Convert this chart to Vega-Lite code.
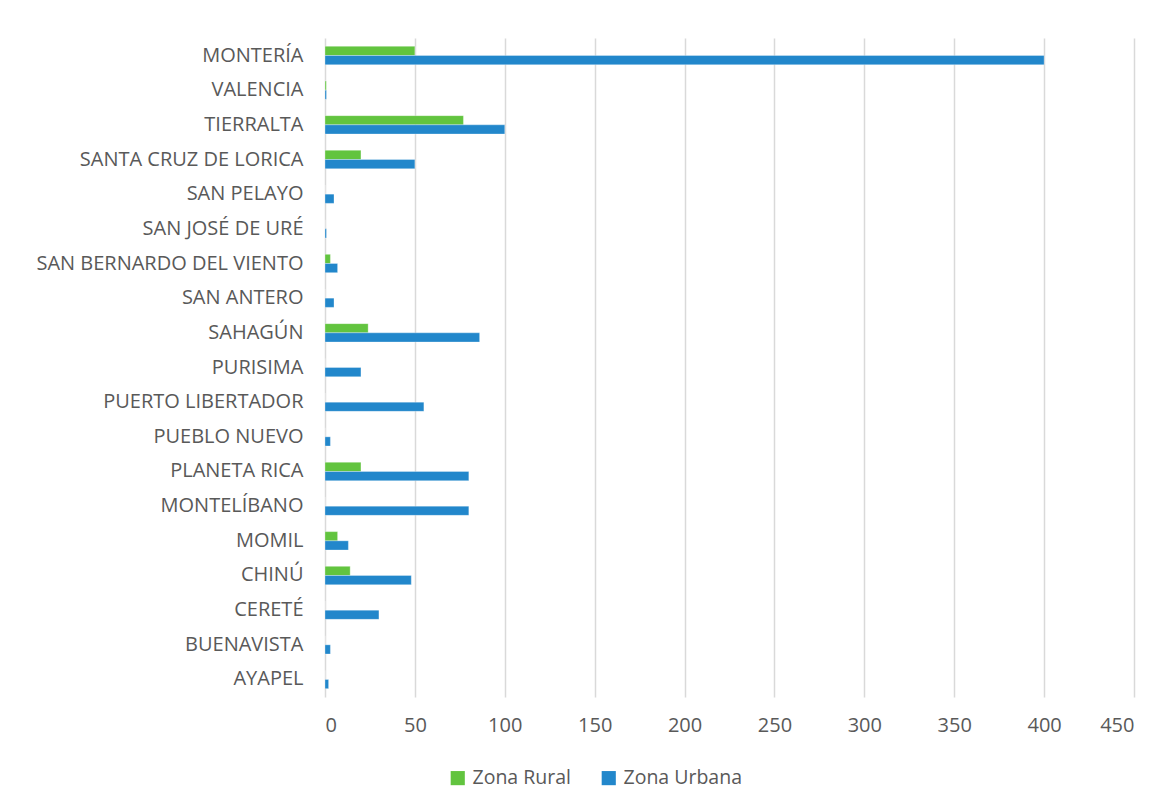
{
  "$schema": "https://vega.github.io/schema/vega-lite/v6.json",
  "autosize": {"type": "none"},
  "width": 809,
  "height": 659,
  "padding": {"left": 325, "top": 38, "right": 37, "bottom": 115},
  "background": "white",
  "data": {"values": [
    {"municipio": "MONTERÍA", "zona": "Zona Rural", "valor": 50},
    {"municipio": "MONTERÍA", "zona": "Zona Urbana", "valor": 400},
    {"municipio": "VALENCIA", "zona": "Zona Rural", "valor": 0.7},
    {"municipio": "VALENCIA", "zona": "Zona Urbana", "valor": 0.8},
    {"municipio": "TIERRALTA", "zona": "Zona Rural", "valor": 77},
    {"municipio": "TIERRALTA", "zona": "Zona Urbana", "valor": 100},
    {"municipio": "SANTA CRUZ DE LORICA", "zona": "Zona Rural", "valor": 20},
    {"municipio": "SANTA CRUZ DE LORICA", "zona": "Zona Urbana", "valor": 50},
    {"municipio": "SAN PELAYO", "zona": "Zona Rural", "valor": 0},
    {"municipio": "SAN PELAYO", "zona": "Zona Urbana", "valor": 5},
    {"municipio": "SAN JOSÉ DE URÉ", "zona": "Zona Rural", "valor": 0},
    {"municipio": "SAN JOSÉ DE URÉ", "zona": "Zona Urbana", "valor": 0.8},
    {"municipio": "SAN BERNARDO DEL VIENTO", "zona": "Zona Rural", "valor": 3},
    {"municipio": "SAN BERNARDO DEL VIENTO", "zona": "Zona Urbana", "valor": 7},
    {"municipio": "SAN ANTERO", "zona": "Zona Rural", "valor": 0},
    {"municipio": "SAN ANTERO", "zona": "Zona Urbana", "valor": 5},
    {"municipio": "SAHAGÚN", "zona": "Zona Rural", "valor": 24},
    {"municipio": "SAHAGÚN", "zona": "Zona Urbana", "valor": 86},
    {"municipio": "PURISIMA", "zona": "Zona Rural", "valor": 0},
    {"municipio": "PURISIMA", "zona": "Zona Urbana", "valor": 20},
    {"municipio": "PUERTO LIBERTADOR", "zona": "Zona Rural", "valor": 0},
    {"municipio": "PUERTO LIBERTADOR", "zona": "Zona Urbana", "valor": 55},
    {"municipio": "PUEBLO NUEVO", "zona": "Zona Rural", "valor": 0},
    {"municipio": "PUEBLO NUEVO", "zona": "Zona Urbana", "valor": 3},
    {"municipio": "PLANETA RICA", "zona": "Zona Rural", "valor": 20},
    {"municipio": "PLANETA RICA", "zona": "Zona Urbana", "valor": 80},
    {"municipio": "MONTELÍBANO", "zona": "Zona Rural", "valor": 0},
    {"municipio": "MONTELÍBANO", "zona": "Zona Urbana", "valor": 80},
    {"municipio": "MOMIL", "zona": "Zona Rural", "valor": 7},
    {"municipio": "MOMIL", "zona": "Zona Urbana", "valor": 13},
    {"municipio": "CHINÚ", "zona": "Zona Rural", "valor": 14},
    {"municipio": "CHINÚ", "zona": "Zona Urbana", "valor": 48},
    {"municipio": "CERETÉ", "zona": "Zona Rural", "valor": 0},
    {"municipio": "CERETÉ", "zona": "Zona Urbana", "valor": 30},
    {"municipio": "BUENAVISTA", "zona": "Zona Rural", "valor": 0},
    {"municipio": "BUENAVISTA", "zona": "Zona Urbana", "valor": 3},
    {"municipio": "AYAPEL", "zona": "Zona Rural", "valor": 0},
    {"municipio": "AYAPEL", "zona": "Zona Urbana", "valor": 2}
  ]},
  "mark": {"type": "bar", "stroke": "white", "strokeWidth": 0.5, "strokeOpacity": 0.6},
  "encoding": {
    "y": {
      "field": "municipio", "type": "nominal", "sort": null,
      "scale": {"paddingInner": 0.47, "paddingOuter": 0.24},
      "axis": {"title": null, "domain": false, "ticks": false, "labelPadding": 22, "labelLimit": 400,
               "labelFont": "Open Sans", "labelFontSize": 20, "labelColor": "#595959"}
    },
    "yOffset": {"field": "zona", "type": "nominal", "sort": ["Zona Rural", "Zona Urbana"]},
    "x": {
      "field": "valor", "type": "quantitative",
      "scale": {"domain": [0, 450], "nice": false},
      "axis": {"title": null, "values": [0, 50, 100, 150, 200, 250, 300, 350, 400, 450],
               "domain": false, "ticks": false, "labelPadding": 18,
               "labelFont": "Open Sans", "labelFontSize": 20, "labelColor": "#595959",
               "gridColor": "#D9D9D9", "gridWidth": 1.5}
    },
    "color": {
      "field": "zona", "type": "nominal",
      "scale": {"domain": ["Zona Rural", "Zona Urbana"], "range": ["#62C43F", "#2287CB"]},
      "legend": {"title": null, "orient": "none", "direction": "horizontal",
                 "legendX": 123, "legendY": 730, "symbolType": "square", "symbolSize": 200,
                 "symbolStrokeWidth": 0, "labelFont": "Open Sans", "labelFontSize": 19.5,
                 "labelColor": "#595959", "columnPadding": 28, "labelOffset": 5, "labelLimit": 300}
    }
  },
  "config": {"view": {"stroke": null}}
}
